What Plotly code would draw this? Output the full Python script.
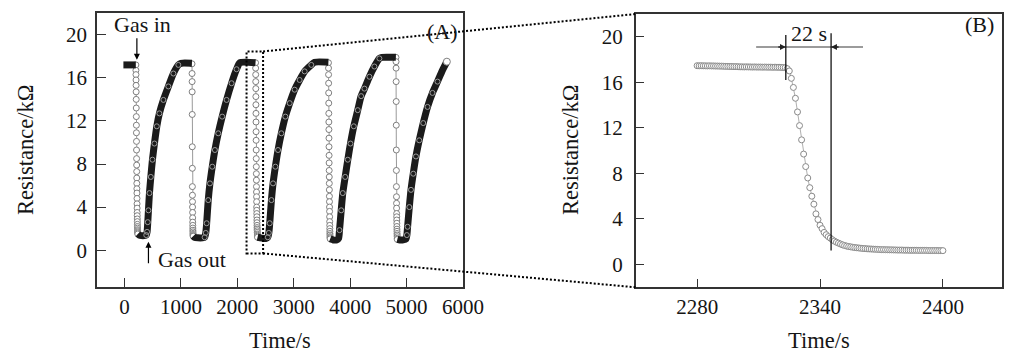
import plotly.graph_objects as go

# ---------------- data ----------------
# Panel A: five gas-in / gas-out cycles (time in s, resistance in kOhm)
BAND0_T = [-20, 200]
BAND0_R = [17.2, 17.2]

DROP1_START = 201
DROP1_R = [17.2, 16.7, 16.3, 15.8, 15.3, 14.7, 14.0, 13.2, 12.4, 11.6, 10.9, 10.1, 9.3, 8.5,
           7.9, 7.3, 6.7, 6.2, 5.7, 5.3, 4.8, 4.3, 3.9, 3.5, 3.2, 2.9, 2.65, 2.4, 2.2, 2.05,
           1.9, 1.8, 1.7, 1.6, 1.5]
BAND1_T = [236, 260, 300, 350, 385, 400, 412, 424, 442, 466, 495, 530, 572, 618, 689, 777,
           866, 954, 1000, 1195]
BAND1_R = [1.5, 1.4, 1.35, 1.35, 1.4, 1.7, 2.6, 3.7, 5.3, 6.8, 8.4, 9.9, 11.5, 12.7, 13.95,
           15.2, 16.4, 17.2, 17.35, 17.35]

DROP2_START = 1196
DROP2_R = [17.3, 16.4, 15.65, 14.7, 12.6, 9.6, 7.6, 5.9, 5.1, 4.5, 4.0, 3.5, 3.0, 2.6, 2.3,
           2.05, 1.85, 1.7, 1.55, 1.45, 1.35, 1.3]
BAND2_T = [1218, 1240, 1300, 1380, 1420, 1440, 1456, 1484, 1514, 1555, 1602, 1661, 1731,
           1809, 1898, 1986, 2044, 2322]
BAND2_R = [1.3, 1.2, 1.15, 1.15, 1.2, 1.6, 2.5, 4.65, 6.2, 7.75, 9.3, 10.85, 12.4, 13.95,
           15.5, 16.8, 17.4, 17.4]

DROP3_START = 2323
DROP3_R = [17.4, 16.9, 16.3, 15.65, 15.0, 14.26, 13.5, 12.7, 11.9, 11.0, 10.2, 9.3, 8.5,
           7.75, 7.1, 6.5, 5.9, 5.4, 4.96, 4.5, 4.0, 3.7, 3.4, 3.1, 2.8, 2.55, 2.3, 2.1,
           1.95, 1.8, 1.65, 1.5, 1.4, 1.3, 1.2]
BAND3_T = [2358, 2400, 2450, 2510, 2540, 2558, 2574, 2604, 2633, 2674, 2721, 2780, 2851,
           2928, 3016, 3104, 3193, 3311, 3369, 3614]
BAND3_R = [1.2, 1.15, 1.1, 1.1, 1.2, 1.6, 2.5, 4.65, 6.2, 7.75, 9.3, 10.85, 12.4, 13.65,
           14.9, 15.8, 16.6, 17.2, 17.45, 17.45]

DROP4_START = 3615
DROP4_R = [17.4, 16.9, 16.3, 15.5, 14.6, 13.65, 12.7, 11.9, 11.2, 10.4, 9.6, 8.8, 8.1, 7.4,
           6.8, 6.2, 5.6, 5.0, 4.5, 4.0, 3.6, 3.1, 2.65, 2.3, 2.0, 1.75, 1.55, 1.4, 1.25,
           1.15, 1.05]
BAND4_T = [3646, 3700, 3760, 3795, 3811, 3841, 3869, 3911, 3958, 4005, 4064, 4134, 4194,
           4253, 4341, 4429, 4518, 4560, 4810]
BAND4_R = [1.05, 0.95, 0.95, 1.1, 1.86, 3.7, 5.3, 6.8, 8.4, 9.9, 11.5, 13.0, 14.3, 15.0,
           16.1, 17.05, 17.8, 17.9, 17.9]

DROP5_START = 4812
DROP5_R = [17.9, 17.5, 16.9, 15.65, 13.8, 11.6, 9.3, 7.4, 5.9, 4.96, 4.35, 3.9, 3.4, 3.1,
           2.8, 2.5, 2.2, 1.95, 1.75, 1.55, 1.4, 1.25, 1.1, 1.0]
BAND5_T = [4836, 4880, 4940, 4990, 5005, 5018, 5048, 5078, 5118, 5166, 5224, 5295, 5371,
           5459, 5548, 5636, 5714]
BAND5_R = [1.0, 0.95, 0.95, 1.05, 1.4, 2.17, 4.0, 5.6, 7.1, 8.7, 10.2, 11.8, 13.3, 14.6,
           15.65, 16.7, 17.5]

SAMPLE_PERIOD = 1  # s

# Panel B: zoom of the third gas-in step, sampled every second from 2280 s
B_START = 2280
B_R = [17.46, 17.45, 17.46, 17.45, 17.45, 17.44, 17.45, 17.44, 17.44, 17.43,
       17.43, 17.42, 17.42, 17.41, 17.40, 17.40, 17.39, 17.39, 17.38, 17.38,
       17.37, 17.36, 17.36, 17.35, 17.36, 17.35, 17.35, 17.34, 17.35, 17.34,
       17.34, 17.34, 17.33, 17.34, 17.33, 17.33, 17.33, 17.32, 17.33, 17.32,
       17.32, 17.31, 17.30, 17.28, 17.20, 17.00, 16.35, 15.55, 14.60, 13.40,
       12.20, 10.95, 9.70, 8.60, 7.60, 6.75, 6.00, 5.30, 4.45, 3.95,
       3.45, 3.15, 2.82, 2.62, 2.45, 2.32, 2.18, 2.06, 1.96, 1.88,
       1.80, 1.73, 1.67, 1.62, 1.58, 1.55, 1.52, 1.49, 1.47, 1.45,
       1.43, 1.41, 1.40, 1.38, 1.37, 1.36, 1.35, 1.34, 1.33, 1.32,
       1.31, 1.31, 1.30, 1.30, 1.29, 1.29, 1.28, 1.28, 1.27, 1.27,
       1.27, 1.26, 1.26, 1.26, 1.25, 1.25, 1.25, 1.25, 1.24, 1.24,
       1.24, 1.24, 1.24, 1.23, 1.23, 1.23, 1.23, 1.23, 1.22, 1.22,
       1.22]

# response-time markers in panel B
RESP_T = [2323.3, 2345.4]
RESP_LINE_LOW = [16.2, 1.23]
RESP_LINE_HIGH = [20.15, 20.3]
RESP_BAR_T = [2308.8, 2361]
RESP_BAR_R = 19.1
RESP_LABEL = "22 s"

# zoom window drawn in panel A
ZOOM_T = [2163, 2456]
ZOOM_R = [-0.3, 18.45]

# gas in / gas out markers in panel A
GAS_IN_T, GAS_IN_R = 219, 17.67
GAS_OUT_T, GAS_OUT_R = 424, 0.77

A_X_TICKS = [0, 1000, 2000, 3000, 4000, 5000, 6000]
A_Y_TICKS = [0, 4, 8, 12, 16, 20]
B_X_TICKS = [2280, 2340, 2400]
B_Y_TICKS = [0, 4, 8, 12, 16, 20]

A_X_RANGE = [-488, 6000]
A_Y_RANGE = [-3.42, 22.02]
B_X_RANGE = [2250, 2429]
B_Y_RANGE = [-2, 22]

# ---------------- layout geometry ----------------
# page body has an 8px margin, so the figure is drawn 8px in from the window corner
OFF = 8
W, H = 1015 - OFF, 362 - OFF
FONT = "Liberation Serif"


def PX(px):
    return (px - OFF) / W


def PY(py):
    return 1 - (py - OFF) / H


A_XDOM = [PX(97), PX(463)]
A_YDOM = [PY(287), PY(13)]
B_XDOM = [PX(635.7), PX(1002.3)]
B_YDOM = [PY(287.3), PY(14)]

DROP_COLOR = "#7f7f7f"
BAND_COLOR = "#1b1b1b"
TEXT_COLOR = "#151515"


def to_paper(v, rng, dom):
    return dom[0] + (v - rng[0]) / (rng[1] - rng[0]) * (dom[1] - dom[0])


fig = go.Figure()

drops = [(DROP1_START, DROP1_R), (DROP2_START, DROP2_R), (DROP3_START, DROP3_R),
         (DROP4_START, DROP4_R), (DROP5_START, DROP5_R)]
bands = [(BAND0_T, BAND0_R), (BAND1_T, BAND1_R), (BAND2_T, BAND2_R), (BAND3_T, BAND3_R),
         (BAND4_T, BAND4_R), (BAND5_T, BAND5_R)]

for start, vals in drops:
    ts = [start + i * SAMPLE_PERIOD for i in range(len(vals))]
    fig.add_trace(go.Scatter(
        x=ts, y=vals, mode="lines+markers", xaxis="x", yaxis="y",
        line=dict(color=DROP_COLOR, width=0.8),
        marker=dict(symbol="circle", size=6, color="white",
                    line=dict(color=DROP_COLOR, width=1)),
        showlegend=False, hoverinfo="skip"))

for ts, vals in bands:
    fig.add_trace(go.Scatter(
        x=ts, y=vals, mode="lines", xaxis="x", yaxis="y",
        line=dict(color=BAND_COLOR, width=7, shape="spline", smoothing=0.6),
        showlegend=False, hoverinfo="skip"))
for ts, vals in bands[1:]:
    fig.add_trace(go.Scatter(
        x=ts[4:-2], y=vals[4:-2], mode="markers", xaxis="x", yaxis="y",
        marker=dict(symbol="circle-open", size=5, color="#9a9a9a", line=dict(width=1)),
        showlegend=False, hoverinfo="skip"))
fig.add_trace(go.Scatter(
    x=[BAND5_T[-1]], y=[BAND5_R[-1]], mode="markers", xaxis="x", yaxis="y",
    marker=dict(symbol="circle", size=7, color="white", line=dict(color=DROP_COLOR, width=1)),
    showlegend=False, hoverinfo="skip"))

b_t = [B_START + i * SAMPLE_PERIOD for i in range(len(B_R))]
fig.add_trace(go.Scatter(
    x=b_t, y=B_R, mode="lines+markers", xaxis="x2", yaxis="y2",
    line=dict(color="#9a9a9a", width=0.8),
    marker=dict(symbol="circle", size=6, color="white", line=dict(color="#8a8a8a", width=1)),
    showlegend=False, hoverinfo="skip"))

axis_common = dict(showline=True, mirror=True, linecolor="#333333", linewidth=1.5,
                   ticks="inside", ticklen=9, tickwidth=1.3, tickcolor="#333333",
                   showgrid=False, zeroline=False, automargin=False,
                   tickfont=dict(family=FONT, size=21, color=TEXT_COLOR))

fig.update_layout(
    width=W, height=H, margin=dict(l=0, r=0, t=0, b=0),
    paper_bgcolor="white", plot_bgcolor="white",
    xaxis=dict(domain=A_XDOM, range=A_X_RANGE, tickvals=A_X_TICKS, anchor="y", **axis_common),
    yaxis=dict(domain=A_YDOM, range=A_Y_RANGE, tickvals=A_Y_TICKS, anchor="x",
               ticklabelstandoff=4, **axis_common),
    xaxis2=dict(domain=B_XDOM, range=B_X_RANGE, tickvals=B_X_TICKS, anchor="y2", **axis_common),
    yaxis2=dict(domain=B_YDOM, range=B_Y_RANGE, tickvals=B_Y_TICKS, anchor="x2",
                ticklabelstandoff=7, **axis_common),
)

txt = dict(family=FONT, size=22, color=TEXT_COLOR)
title_txt = dict(family=FONT, size=22.5, color=TEXT_COLOR)


def label(text, px, py, font=txt, **kw):
    d = dict(text=text, x=PX(px), y=PY(py), xref="paper", yref="paper",
             xanchor="center", yanchor="middle", showarrow=False, font=font)
    d.update(kw)
    return d


ann = [
    label("Resistance/kΩ", 25, 150, font=title_txt, textangle=-90),
    label("Time/s", 280, 340, font=title_txt),
    label("Resistance/kΩ", 570, 150, font=title_txt, textangle=-90),
    label("Time/s", 819, 340, font=title_txt),
    label("(A)", 442, 31.7),
    label("(B)", 979, 25),
    label("Gas in", 142, 25),
    label("Gas out", 191.7, 259.3),
    label(RESP_LABEL, 809, 33.3),
    dict(text="", x=GAS_IN_T, y=GAS_IN_R, xref="x", yref="y", showarrow=True,
         ax=0, ay=-23, arrowhead=2, arrowsize=1, arrowwidth=1.2, arrowcolor="black"),
    dict(text="", x=GAS_OUT_T, y=GAS_OUT_R, xref="x", yref="y", showarrow=True,
         ax=0, ay=23, arrowhead=2, arrowsize=1, arrowwidth=1.2, arrowcolor="black"),
    dict(text="", x=RESP_T[0], y=RESP_BAR_R, xref="x2", yref="y2", showarrow=True,
         ax=-9, ay=0, arrowhead=2, arrowsize=0.9, arrowwidth=1.3, arrowcolor="#222222"),
    dict(text="", x=RESP_T[1], y=RESP_BAR_R, xref="x2", yref="y2", showarrow=True,
         ax=9, ay=0, arrowhead=2, arrowsize=0.9, arrowwidth=1.3, arrowcolor="#222222"),
]
fig.update_layout(annotations=ann)

DOTTED = dict(color="black", width=2, dash="2px,2px")
shapes = [dict(type="line", xref="x2", yref="y2", x0=RESP_BAR_T[0], x1=RESP_BAR_T[1],
               y0=RESP_BAR_R, y1=RESP_BAR_R, line=dict(color="#7a7a7a", width=1.5))]
for t, lo, hi in zip(RESP_T, RESP_LINE_LOW, RESP_LINE_HIGH):
    shapes.append(dict(type="line", xref="x2", yref="y2", x0=t, x1=t, y0=lo, y1=hi,
                       line=dict(color="black", width=1.2)))
shapes.append(dict(type="rect", xref="x", yref="y", x0=ZOOM_T[0], x1=ZOOM_T[1],
                   y0=ZOOM_R[0], y1=ZOOM_R[1], line=DOTTED))
# connector lines from the zoom window to panel B
for ra, rb in [(ZOOM_R[1], B_Y_RANGE[1]), (ZOOM_R[0], B_Y_RANGE[0])]:
    shapes.append(dict(type="line", xref="paper", yref="paper",
                       x0=to_paper(ZOOM_T[1], A_X_RANGE, A_XDOM),
                       y0=to_paper(ra, A_Y_RANGE, A_YDOM),
                       x1=to_paper(B_X_RANGE[0], B_X_RANGE, B_XDOM),
                       y1=to_paper(rb, B_Y_RANGE, B_YDOM),
                       line=DOTTED))
fig.update_layout(shapes=shapes)

fig.write_html("out.html")
